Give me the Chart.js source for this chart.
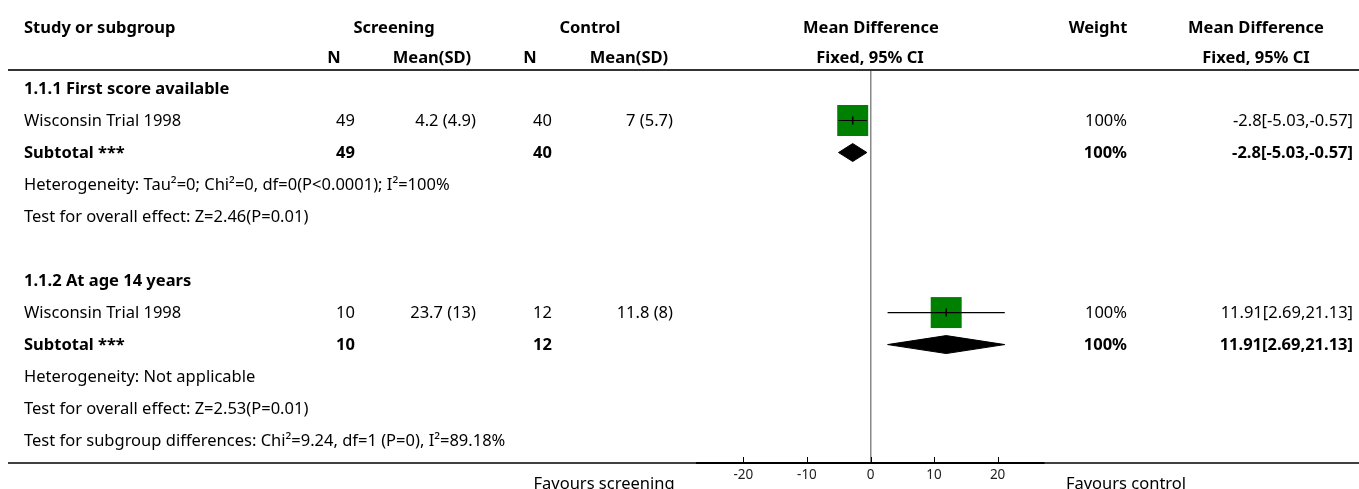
<!DOCTYPE html>
<html>
<head>
<meta charset="utf-8">
<script src="https://cdn.jsdelivr.net/npm/chart.js@4.4.1/dist/chart.umd.min.js"></script>
<style>
  html, body { margin: 0; padding: 0; background: #fff; }
  canvas { display: block; }
</style>
</head>
<body>
<canvas id="forest" width="1359" height="489"></canvas>
<script>
/* =====================
   データ (行ごと)
===================== */
const rowLabels = [
    '1.1.1 First score available',
    'Wisconsin Trial 1998',
    'Subtotal ***',
    'Heterogeneity: Tau\u00b2=0; Chi\u00b2=0, df=0(P<0.0001); I\u00b2=100%',
    'Test for overall effect: Z=2.46(P=0.01)',
    '',
    '1.1.2 At age 14 years',
    'Wisconsin Trial 1998',
    'Subtotal ***',
    'Heterogeneity: Not applicable',
    'Test for overall effect: Z=2.53(P=0.01)',
    'Test for subgroup differences: Chi\u00b2=9.24, df=1 (P=0), I\u00b2=89.18%'
];
const boldRows = [0, 2, 6, 8];

const screenN    = ['', '49', '49', '', '', '', '', '10', '10', '', '', ''];
const screenMean = ['', '4.2 (4.9)', '', '', '', '', '', '23.7 (13)', '', '', '', ''];
const controlN   = ['', '40', '40', '', '', '', '', '12', '12', '', '', ''];
const controlMean= ['', '7 (5.7)', '', '', '', '', '', '11.8 (8)', '', '', '', ''];
const weightText = ['', '100%', '100%', '', '', '', '', '100%', '100%', '', '', ''];
const ciText     = ['', '-2.8[-5.03,-0.57]', '-2.8[-5.03,-0.57]', '', '', '', '',
                    '11.91[2.69,21.13]', '11.91[2.69,21.13]', '', '', ''];

// 個別研究
const studyRows = [1, 7];
const studyMD   = [-2.8, 11.91];
const studyLo   = [-5.03, 2.69];
const studyHi   = [-0.57, 21.13];

// サブトータル (ダイヤ)
const totalRows = [2, 8];
const totalMD   = [-2.8, 11.91];
const totalLo   = [-5.03, 2.69];
const totalHi   = [-0.57, 21.13];

const xTicks = [-20, -10, 0, 10, 20];
const xMin = -27.3, xMax = 27.3;

/* =====================
   見た目
===================== */
const FONT = '"Noto Sans", "Open Sans", sans-serif';
const FS = 16.5;
const DIAMOND_HALF = 0.28;   // 行単位

/* =====================
   データセット構築
===================== */
const ciData = [];
studyRows.forEach((r, i) => {
    ciData.push({ x: studyLo[i], y: r }, { x: studyHi[i], y: r }, { x: null, y: null });
});

const datasets = [
    {
        label: 'ci',
        data: ciData,
        showLine: true,
        spanGaps: false,
        borderColor: '#000',
        borderWidth: 1.2,
        pointRadius: 0,
        order: 1
    },
    {
        label: 'est',
        data: studyRows.map((r, i) => ({ x: studyMD[i], y: r })),
        pointStyle: 'line',
        rotation: 90,
        pointRadius: 4,
        borderColor: '#000',
        borderWidth: 1.5,
        order: 0
    },
    {
        label: 'box',
        data: studyRows.map((r, i) => ({ x: studyMD[i], y: r })),
        pointStyle: 'rect',
        pointRadius: 21.9,
        backgroundColor: '#008000',
        borderWidth: 0,
        order: 2
    }
];

totalRows.forEach((r, i) => {
    datasets.push({
        label: 'diamond' + i,
        data: [
            { x: totalLo[i], y: r },
            { x: totalMD[i], y: r - DIAMOND_HALF },
            { x: totalHi[i], y: r },
            { x: totalMD[i], y: r + DIAMOND_HALF },
            { x: totalLo[i], y: r }
        ],
        showLine: true,
        fill: 'shape',
        tension: 0,
        borderColor: '#000',
        backgroundColor: '#000',
        borderWidth: 1,
        pointRadius: 0,
        order: 3
    });
});

/* =====================
   表テキスト・罫線プラグイン
===================== */
const tablePlugin = {
    id: 'forestTable',
    afterDraw(chart) {
        const ctx = chart.ctx;
        const ys = chart.scales.y;
        const xs = chart.scales.x;
        const W = chart.width;
        ctx.save();
        ctx.textBaseline = 'middle';
        ctx.fillStyle = '#000';

        // Noto Sans の middle は少し上に寄るので 1px 下げる
        const put = (t, x, y, align, bold) => {
            if (!t) return;
            ctx.font = (bold ? 'bold ' : '') + FS + 'px ' + FONT;
            ctx.textAlign = align;
            ctx.fillText(t, x, y + 1);
        };

        // ヘッダー
        put('Study or subgroup', 24, 27, 'left', true);
        put('Screening', 394, 27, 'center', true);
        put('Control', 590, 27, 'center', true);
        put('Mean Difference', 871, 27, 'center', true);
        put('Weight', 1098, 27, 'center', true);
        put('Mean Difference', 1256, 27, 'center', true);
        put('N', 334, 57, 'center', true);
        put('Mean(SD)', 432, 57, 'center', true);
        put('N', 530, 57, 'center', true);
        put('Mean(SD)', 629, 57, 'center', true);
        put('Fixed, 95% CI', 870, 57, 'center', true);
        put('Fixed, 95% CI', 1256, 57, 'center', true);

        // 行
        rowLabels.forEach((lab, i) => {
            const y = ys.getPixelForValue(i);
            const b = boldRows.includes(i);
            put(lab, 24, y, 'left', b);
            put(screenN[i], 355, y, 'right', b);
            put(screenMean[i], 476, y, 'right', b);
            put(controlN[i], 552, y, 'right', b);
            put(controlMean[i], 673, y, 'right', b);
            put(weightText[i], 1127, y, 'right', b);
            put(ciText[i], 1353, y, 'right', b);
        });

        // 罫線
        ctx.strokeStyle = '#333';
        ctx.lineWidth = 2;
        ctx.beginPath();
        ctx.moveTo(8, chart.chartArea.top);
        ctx.lineTo(W, chart.chartArea.top);
        ctx.stroke();

        ctx.strokeStyle = '#000';
        ctx.lineWidth = 1.3;
        ctx.beginPath();
        ctx.moveTo(8, chart.chartArea.bottom);
        ctx.lineTo(W, chart.chartArea.bottom);
        ctx.stroke();

        // 目盛り (上向き)
        ctx.lineWidth = 1;
        xs.ticks.forEach(t => {
            const x = Math.round(xs.getPixelForValue(t.value)) + 0.5;
            ctx.beginPath();
            ctx.moveTo(x, chart.chartArea.bottom);
            ctx.lineTo(x, chart.chartArea.bottom - 6);
            ctx.stroke();
        });

        put('Favours screening', 604, 483, 'center', false);
        put('Favours control', 1126, 483, 'center', false);
        ctx.restore();
    }
};

new Chart(document.getElementById('forest'), {
    type: 'scatter',
    data: { datasets },
    plugins: [tablePlugin],
    options: {
        responsive: false,
        animation: false,
        devicePixelRatio: 1,
        layout: { padding: { left: 697, right: 315, top: 70, bottom: 0 } },
        plugins: { legend: { display: false }, tooltip: { enabled: false } },
        scales: {
            x: {
                type: 'linear',
                min: xMin,
                max: xMax,
                afterBuildTicks: s => { s.ticks = xTicks.map(v => ({ value: v })); },
                afterFit: s => { s.height = 26; },
                ticks: {
                    padding: 4,
                    color: '#222',
                    font: { family: FONT, size: 13.5 }
                },
                grid: {
                    drawTicks: false,
                    tickLength: 0,
                    lineWidth: 1.5,
                    color: c => (c.tick && c.tick.value === 0) ? '#888' : 'rgba(0,0,0,0)'
                },
                border: { display: true, color: '#000', width: 2 }
            },
            y: {
                type: 'linear',
                display: false,
                reverse: true,
                min: -0.578,
                max: 11.70
            }
        }
    }
});
</script>
</body>
</html>
